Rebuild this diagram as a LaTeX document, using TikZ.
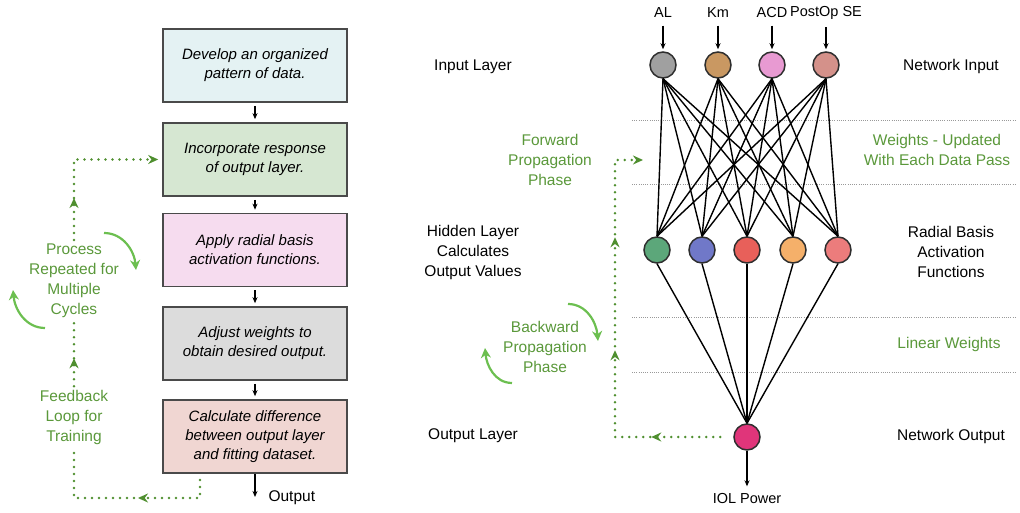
\documentclass[tikz,border=0pt]{standalone}
\usepackage{fontspec}
\setmainfont{Liberation Sans}
\usetikzlibrary{arrows.meta,decorations.markings}

\definecolor{boxline}{HTML}{4A4A4A}
\definecolor{nodeline}{HTML}{2E2E2E}
\definecolor{boxA}{HTML}{E4F2F3}
\definecolor{boxB}{HTML}{D6E7D2}
\definecolor{boxC}{HTML}{F6DCEF}
\definecolor{boxD}{HTML}{DCDCDC}
\definecolor{boxE}{HTML}{F0D6D2}
\definecolor{inA}{HTML}{A0A0A0}
\definecolor{inB}{HTML}{C99862}
\definecolor{inC}{HTML}{E89AD2}
\definecolor{inD}{HTML}{D4918A}
\definecolor{hidA}{HTML}{5CA77A}
\definecolor{hidB}{HTML}{7078C8}
\definecolor{hidC}{HTML}{E8605A}
\definecolor{hidD}{HTML}{F5B06A}
\definecolor{hidE}{HTML}{EC7C7C}
\definecolor{outC}{HTML}{E0357A}
\definecolor{txtgreen}{HTML}{5A983A}
\definecolor{dotgreen}{HTML}{4F8F2F}
\definecolor{arcgreen}{HTML}{6CBF50}

\tikzset{gtip/.tip={Stealth[length=10pt,width=9pt]}}

\begin{document}
\begin{tikzpicture}[x=1pt,y=1pt,
  box/.style={draw=boxline, line width=1.6pt, minimum width=184pt, minimum height=73pt,
    align=center, font=\fontsize{15}{19}\selectfont\itshape},
  lbl/.style={align=center, font=\fontsize{15.5}{20}\selectfont},
  glbl/.style={lbl, text=txtgreen},
  neuron/.style={circle, draw=nodeline, line width=1.5pt, minimum size=26pt, inner sep=0pt},
  link/.style={line width=1.4pt},
  flow/.style={-{Stealth[length=6pt,width=5pt]}, line width=1.3pt},
  loopline/.style={color=dotgreen, line width=2.8pt, line cap=round, dash pattern=on 0pt off 7pt},
  turn/.style={color=arcgreen, line width=2.2pt, -{Stealth[length=10pt,width=10pt]}},
  sep/.style={draw=gray!80, line width=0.8pt, dash pattern=on 1pt off 1.2pt}
]
  \useasboundingbox (0,0) rectangle (1020,513);

  % Draw training steps
  \node[box, fill=boxA] (b1) at (255,447.5) {Develop an organized\\pattern of data.};
  \node[box, fill=boxB] (b2) at (255,353.5) {Incorporate response\\of output layer.};
  \node[box, fill=boxC] (b3) at (255,263) {Apply radial basis\\activation functions.};
  \node[box, fill=boxD] (b4) at (255,169.5) {Adjust weights to\\obtain desired output.};
  \node[box, fill=boxE] (b5) at (255,76.5) {Calculate difference\\between output layer\\and fitting dataset.};
  \foreach \a/\b in {b1/b2,b2/b3,b3/b4,b4/b5}
    \draw[flow, shorten <=3pt, shorten >=3pt] (\a) -- (\b);
  \coordinate (outend) at (255,16);
  \draw[flow] (b5.south) -- (outend);
  \node[lbl, anchor=west] (outtxt) at (265,15) {Output};

  % Draw feedback loop
  \coordinate (fb0) at (200,33);
  \node[glbl] (feedback) at (74,96) {Feedback\\Loop for\\Training};
  \node[glbl] (process) at (74,232.5) {Process\\Repeated for\\Multiple\\Cycles};
  \draw[loopline, postaction=decorate, decoration={markings,
      mark=at position 80pt with {\arrow{gtip}}}]
    (fb0) -- (200,15) -- (74,15) -- (feedback.south);
  \draw[loopline, postaction=decorate, decoration={markings,
      mark=at position 28pt with {\arrow{gtip}}}]
    (feedback.north) -- (process.south);
  \draw[loopline, -gtip, shorten >=4pt, postaction=decorate, decoration={markings,
      mark=at position 42pt with {\arrow{gtip}}}]
    (process.north) |- (b2.west);
  \draw[turn] (104,280) to[out=0,in=95] (136,243);
  \draw[turn] (45,185) to[out=180,in=-85] (13,223);

  % Draw layer labels
  \node[lbl] (inlayer) at (473,446) {Input Layer};
  \node[lbl] (hidlayer) at (473,261) {Hidden Layer\\Calculates\\Output Values};
  \node[lbl] (outlayer) at (473,77) {Output Layer};
  \node[lbl] (netin) at (951,446) {Network Input};
  \node[lbl] (radial) at (951,261) {Radial Basis\\Activation\\Functions};
  \node[lbl] (netout) at (951,77) {Network Output};
  \node[glbl] (wupd) at (937,363.5) {Weights - Updated\\With Each Data Pass};
  \node[glbl] (linw) at (949,169) {Linear Weights};
  \node[glbl] (fwd) at (550,353) {Forward\\Propagation\\Phase};
  \node[glbl] (bwd) at (545,166) {Backward\\Propagation\\Phase};

  % Draw separators
  \foreach \y in {393,329,196,141}
    \draw[sep] (632,\y) -- (1016,\y);

  % Draw neurons
  \foreach \i/\x/\c/\t in {1/663/inA/AL,2/718/inB/Km,3/772/inC/ACD,4/826/inD/PostOp SE} {
    \node[neuron, fill=\c] (in\i) at (\x,448) {};
    \node[lbl, font=\fontsize{14.5}{18}\selectfont] (top\i) at (\x,500) {\t};
    \draw[flow, shorten <=4pt, shorten >=2pt] (top\i) -- (in\i);
  }
  \foreach \j/\x/\c in {1/657/hidA,2/702/hidB,3/747/hidC,4/793/hidD,5/838/hidE}
    \node[neuron, fill=\c] (hid\j) at (\x,263) {};
  \node[neuron, fill=outC] (out) at (747,76) {};

  % Draw weights
  \foreach \i in {1,...,4}
    \foreach \j in {1,...,5}
      \draw[link] (in\i.south) -- (hid\j.north);
  \foreach \j in {1,...,5}
    \draw[link] (hid\j.south) -- (out.north);
  \node[lbl, font=\fontsize{14.5}{18}\selectfont] (iol) at (747,14) {IOL Power};
  \draw[flow, shorten >=4pt] (out.south) -- (iol.north);

  % Draw propagation loop
  \coordinate (fwdend) at (643,353);
  \draw[loopline, -gtip, shorten <=13pt, postaction=decorate, decoration={markings,
      mark=at position 82pt with {\arrow{gtip}},
      mark=at position 205pt with {\arrow{gtip}},
      mark=at position 318pt with {\arrow{gtip}}}]
    (out.west) -- (615,76) -- (615,353) -- (fwdend);
  \draw[turn] (568,209) to[out=0,in=95] (598,172);
  \draw[turn] (512,130) to[out=180,in=-85] (485,165);
\end{tikzpicture}
\end{document}
